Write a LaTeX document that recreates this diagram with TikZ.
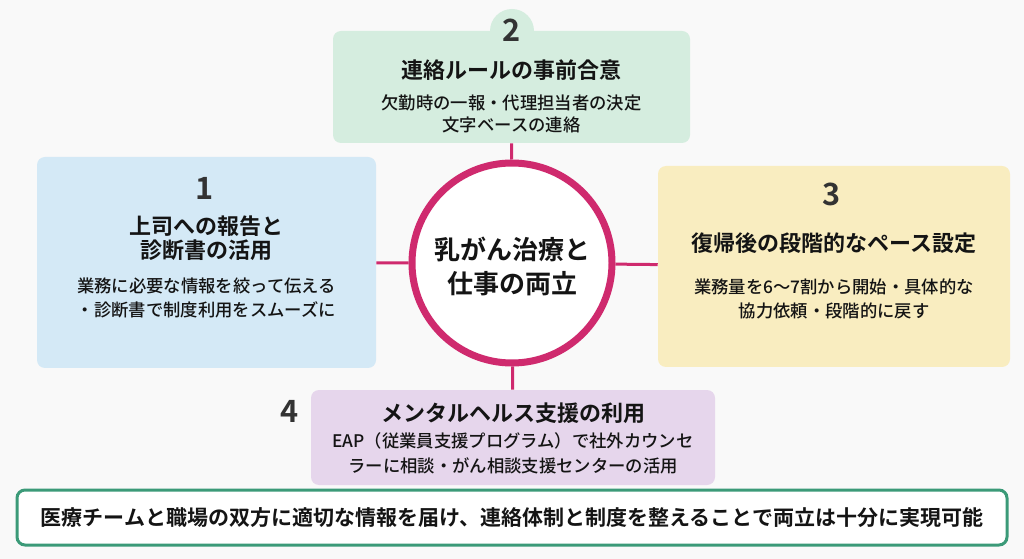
\documentclass[tikz,border=0pt]{standalone}
\usepackage{fontspec}
\newfontfamily\jp{Noto Sans CJK JP}[BoldFont={Noto Sans CJK JP Bold}]
\newfontfamily\jpmed{Noto Sans CJK JP Medium}
\newlength\pxu
\setlength\pxu{0.75pt}

\definecolor{bgwhite}{HTML}{F9F9F9}
\definecolor{ink}{HTML}{141414}
\definecolor{numgray}{HTML}{333333}
\definecolor{hubpink}{HTML}{CF2A6E}
\definecolor{cardgreen}{HTML}{D5EDDF}
\definecolor{cardblue}{HTML}{D4E9F6}
\definecolor{cardyellow}{HTML}{F9EDC0}
\definecolor{cardpurple}{HTML}{E6D6EC}
\definecolor{bannergreen}{HTML}{3B9A78}

\tikzset{
  card/.style={rectangle, rounded corners=8\pxu, inner sep=0pt},
  link/.style={hubpink, line width=3\pxu},
  num/.style={font=\jp\bfseries\fontsize{23}{26}\selectfont, text=numgray},
  head/.style={font=\jp\bfseries\fontsize{16.5}{18}\selectfont, align=center, text=ink},
  body/.style={font=\jpmed\fontsize{13}{18}\selectfont, align=center, text=ink},
}

\begin{document}
\begin{tikzpicture}[x=0.75pt, y=-0.75pt]

\useasboundingbox[fill=bgwhite] (0,0) rectangle (1024,559);

\fill[cardgreen] (512,31) circle[radius=22];
\node[card, fill=cardgreen, minimum width=357\pxu, minimum height=112\pxu] (box2) at (511.5,87) {};
\node[card, fill=cardblue, minimum width=339\pxu, minimum height=211\pxu] (box1) at (206.5,262.5) {};
\node[card, fill=cardyellow, minimum width=352\pxu, minimum height=201\pxu] (box3) at (834,266.5) {};
\node[card, fill=cardpurple, minimum width=404\pxu, minimum height=95\pxu] (box4) at (513,437.5) {};

\node[circle, draw=hubpink, line width=7\pxu, fill=white, minimum size=200\pxu, inner sep=0pt] (hub) at (512,263) {};
\node[font=\jp\bfseries\fontsize{19.5}{25}\selectfont, align=center, text=ink] (hubtext) at (512,266.5) {乳がん治療と\\仕事の両立};

\draw[link] (hub) -- (box1);
\draw[link] (hub) -- (box2);
\draw[link] (hub) -- (box3);
\draw[link] (hub) -- (box4);

\node[num] (num2) at (512,30) {2};
\node[head] (head2) at (511.5,70) {連絡ルールの事前合意};
\node[body, font=\jpmed\fontsize{13}{16.5}\selectfont] (body2) at (511.5,114) {欠勤時の一報・代理担当者の決定\\文字ベースの連絡};

\node[num] (num1) at (205,188) {1};
\node[head] (head1) at (206.5,238) {上司への報告と\\診断書の活用};
\node[body] (body1) at (206.5,298) {業務に必要な情報を絞って伝える\\・診断書で制度利用をスムーズに};

\node[num] (num3) at (832,194) {3};
\node[head] (head3) at (834,243) {復帰後の段階的なペース設定};
\node[body] (body3) at (834,298.5) {業務量を6〜7割から開始・具体的な\\協力依頼・段階的に戻す};

\node[num] (num4) at (290,411) {4};
\node[head] (head4) at (513,413) {メンタルヘルス支援の利用};
\node[body, font=\jpmed\fontsize{13}{18.75}\selectfont] (body4) at (513,453.5) {EAP（従業員支援プログラム）で社外カウンセ\\ラーに相談・がん相談支援センターの活用};

\node[card, draw=bannergreen, line width=3\pxu, fill=white, minimum width=990\pxu, minimum height=55\pxu, font=\jp\bfseries\fontsize{15.75}{18}\selectfont, text=ink] (banner) at (512,517.5) {医療チームと職場の双方に適切な情報を届け、連絡体制と制度を整えることで両立は十分に実現可能};

\end{tikzpicture}
\end{document}
